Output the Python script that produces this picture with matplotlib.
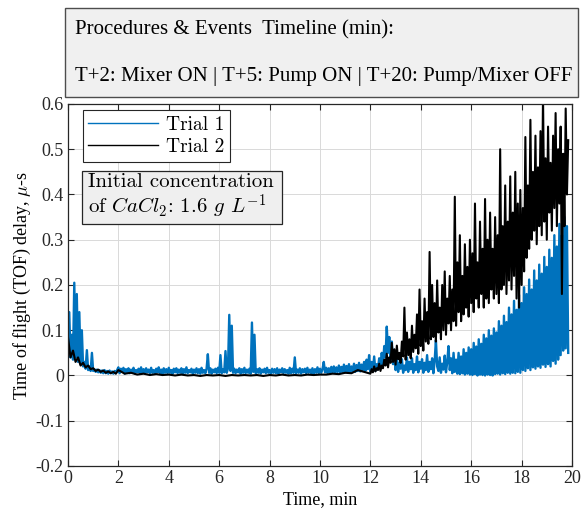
import numpy as np
import matplotlib
matplotlib.use("Agg")
import matplotlib.pyplot as plt
from matplotlib.patches import Rectangle

plt.rcParams["font.family"] = ["Liberation Serif", "DejaVu Serif"]
plt.rcParams["mathtext.fontset"] = "cm"

# --- Trial 1 (blue), three segments ---
t1_starts = [0.0, 2.0, 12.0]
t1_steps = [0.05, 0.05, 0.05]
trial1_a = [0.05, 0.14, 0.04, 0.09, 0.035, 0.205, 0.04, 0.18, 0.03, 0.14,
            0.025, 0.10, 0.02, 0.03, 0.015, 0.056, 0.012, 0.02, 0.01, 0.05,
            0.01, 0.014, 0.008, 0.013, 0.007, 0.012, 0.006, 0.011, 0.005, 0.012,
            0.005, 0.01, 0.004, 0.011, 0.005, 0.009, 0.004, 0.01, 0.005, 0.012]
trial1_b = [0.018, 0.005, 0.015, 0.008, 0.017, 0.004, 0.014, 0.007, 0.016, 0.005,
            0.013, 0.006, 0.017, 0.004, 0.012, 0.007, 0.015, 0.005, 0.018, 0.006,
            0.014, 0.004, 0.016, 0.007, 0.013, 0.005, 0.017, 0.006, 0.012, 0.004,
            0.015, 0.007, 0.018, 0.005, 0.013, 0.004, 0.016, 0.006, 0.014, 0.005,
            0.017, 0.006, 0.012, 0.004, 0.015, 0.007, 0.016, 0.005, 0.013, 0.006,
            0.016, 0.004, 0.014, 0.006, 0.018, 0.005, 0.012, 0.007, 0.015, 0.004,
            0.013, 0.006, 0.016, 0.005, 0.014, 0.004, 0.017, 0.006, 0.012, 0.005,
            0.015, 0.047, 0.006, 0.016, 0.004, 0.013, 0.007, 0.015, 0.005, 0.017,
            0.006, 0.045, 0.005, 0.014, 0.007, 0.054, 0.006, 0.016, 0.134, 0.01,
            0.11, 0.006, 0.015, 0.005, 0.013, 0.007, 0.016, 0.004, 0.014, 0.006,
            0.017, 0.005, 0.013, 0.006, 0.015, 0.004, 0.117, 0.008, 0.09, 0.005,
            0.014, 0.006, 0.016, 0.004, 0.013, 0.007, 0.015, 0.005, 0.017, 0.006,
            0.012, 0.004, 0.015, 0.006, 0.014, 0.005, 0.016, 0.004, 0.013, 0.007,
            0.016, 0.005, 0.014, 0.006, 0.012, 0.004, 0.017, 0.005, 0.015, 0.006,
            0.04, 0.005, 0.013, 0.006, 0.016, 0.004, 0.014, 0.007, 0.015, 0.005,
            0.017, 0.006, 0.013, 0.005, 0.016, 0.004, 0.014, 0.006, 0.018, 0.005,
            0.015, 0.006, 0.014, 0.03, 0.007, 0.017, 0.005, 0.016, 0.006, 0.019,
            0.007, 0.02, 0.006, 0.018, 0.008, 0.022, 0.006, 0.019, 0.008, 0.024,
            0.007, 0.021, 0.009, 0.025, 0.008, 0.02, 0.01, 0.026, 0.008, 0.023,
            0.01, 0.028, 0.009, 0.024, 0.012, 0.03, 0.01, 0.035, 0.014, 0.045]
trial1_c = [0.008, 0.03, 0.012, 0.042, 0.01, 0.025, 0.014, 0.038, 0.02, 0.05,
            0.025, 0.065, 0.04, 0.108, 0.05, 0.085, 0.035, 0.075, 0.025, 0.05,
            0.012, 0.042, 0.008, 0.028, 0.015, 0.036, 0.006, 0.022, 0.012, 0.04,
            0.008, 0.03, 0.014, 0.038, 0.006, 0.025, 0.012, 0.042, 0.007, 0.03,
            0.015, 0.036, 0.006, 0.028, 0.012, 0.045, 0.008, 0.03, 0.014, 0.038,
            0.005, 0.032, 0.078, 0.02, 0.01, 0.04, 0.006, 0.026, 0.013, 0.044,
            0.007, 0.03, 0.065, 0.012, 0.038, 0.005, 0.05, 0.008, 0.035, 0.004,
            0.05, 0.003, 0.042, 0.005, 0.058, 0.002, 0.05, 0.004, 0.062, 0.002,
            0.058, 0.001, 0.072, 0.003, 0.064, 0.0, 0.08, 0.002, 0.07, 0.001,
            0.09, 0.0, 0.082, 0.002, 0.1, 0.001, 0.088, 0.0, 0.104, 0.003,
            0.095, 0.004, 0.12, 0.002, 0.11, 0.005, 0.132, 0.003, 0.118, 0.006,
            0.15, 0.004, 0.135, 0.006, 0.165, 0.005, 0.145, 0.008, 0.178, 0.006,
            0.16, 0.012, 0.195, 0.01, 0.18, 0.016, 0.212, 0.012, 0.19, 0.018,
            0.232, 0.015, 0.21, 0.02, 0.245, 0.017, 0.225, 0.024, 0.262, 0.019,
            0.24, 0.025, 0.278, 0.02, 0.26, 0.032, 0.31, 0.026, 0.285, 0.035,
            0.335, 0.045, 0.31, 0.055, 0.35, 0.06, 0.33, 0.05]

# --- Trial 2 (black) ---
t2_starts = [0.0, 2.0, 12.0]
t2_steps = [0.1, 0.25, 0.05]
trial2_a = [0.085, 0.04, 0.055, 0.03, 0.04, 0.022, 0.028, 0.018, 0.022, 0.014,
            0.016, 0.01, 0.013, 0.008, 0.011, 0.006, 0.009, 0.005, 0.008, 0.004]
trial2_b = [0.012, 0.004, 0.006, 0.002, 0.004, 0.001, 0.003, 0.001, 0.002, 0.0,
            0.002, 0.0, 0.001, -0.001, 0.001, 0.0, 0.001, -0.001, 0.001, 0.0,
            0.001, 0.0, 0.001, -0.001, 0.001, 0.0, 0.002, 0.0, 0.001, 0.0,
            0.002, 0.001, 0.002, 0.002, 0.004, 0.003, 0.006, 0.005, 0.012, 0.008]
trial2_c = [0.004, 0.014, 0.007, 0.02, 0.009, 0.016, 0.012, 0.026, 0.01, 0.022,
            0.016, 0.035, 0.022, 0.048, 0.018, 0.04, 0.028, 0.072, 0.03, 0.058,
            0.024, 0.066, 0.036, 0.05, 0.028, 0.075, 0.042, 0.15, 0.035, 0.095,
            0.045, 0.08, 0.038, 0.11, 0.052, 0.09, 0.06, 0.135, 0.048, 0.19,
            0.065, 0.12, 0.055, 0.17, 0.075, 0.14, 0.07, 0.273, 0.08, 0.2,
            0.085, 0.16, 0.075, 0.21, 0.095, 0.15, 0.08, 0.2, 0.1, 0.23,
            0.09, 0.17, 0.115, 0.22, 0.1, 0.19, 0.12, 0.395, 0.11, 0.25,
            0.14, 0.31, 0.12, 0.22, 0.135, 0.29, 0.15, 0.24, 0.13, 0.3,
            0.16, 0.27, 0.14, 0.38, 0.17, 0.25, 0.15, 0.34, 0.18, 0.28,
            0.15, 0.39, 0.17, 0.3, 0.16, 0.36, 0.19, 0.28, 0.17, 0.35,
            0.18, 0.31, 0.16, 0.5, 0.19, 0.33, 0.2, 0.42, 0.18, 0.34,
            0.21, 0.44, 0.19, 0.36, 0.22, 0.45, 0.17, 0.38, 0.15, 0.41,
            0.2, 0.37, 0.23, 0.527, 0.26, 0.42, 0.28, 0.565, 0.3, 0.45,
            0.32, 0.53, 0.29, 0.46, 0.33, 0.54, 0.31, 0.62, 0.34, 0.48,
            0.3, 0.55, 0.36, 0.47, 0.32, 0.53, 0.37, 0.58, 0.33, 0.5,
            0.38, 0.55, 0.18, 0.49, 0.33, 0.59, 0.4, 0.52]

x_ticks = [0, 2, 4, 6, 8, 10, 12, 14, 16, 18, 20]
y_ticks = [-0.2, -0.1, 0, 0.1, 0.2, 0.3, 0.4, 0.5, 0.6]
y_tick_labels = ["-0.2", "-0.1", "0", "0.1", "0.2", "0.3", "0.4", "0.5", "0.6"]


def build(starts, steps, segs):
    ts, vs = [], []
    for s0, dt, seg in zip(starts, steps, segs):
        ts.append(s0 + dt * np.arange(len(seg)))
        vs.append(np.array(seg))
    return np.concatenate(ts), np.concatenate(vs)


t1, v1 = build(t1_starts, t1_steps, [trial1_a, trial1_b, trial1_c])
t2, v2 = build(t2_starts, t2_steps, [trial2_a, trial2_b, trial2_c])

fig = plt.figure(figsize=(5.82, 5.14), dpi=100)
ax = fig.add_axes([0.1168, 0.0934, 0.866, 0.7043])

ax.plot(t1, v1, color="#0072bd", lw=1.7, label="Trial 1")
ax.plot(t2, v2, color="black", lw=1.5, label="Trial 2")

ax.set_xlim(0, 20)
ax.set_ylim(-0.2, 0.6)
ax.set_xticks(x_ticks)
ax.set_yticks(y_ticks)
ax.set_yticklabels(y_tick_labels)
ax.tick_params(direction="in", top=True, right=True, length=4, width=0.8,
               labelsize=13, colors="#262626", pad=3)
ax.grid(True, color="#d9d9d9", lw=0.7)
ax.set_axisbelow(True)
for sp in ax.spines.values():
    sp.set_color("#262626")
    sp.set_linewidth(0.9)

ax.set_xlabel("Time, min", fontsize=13, labelpad=3)
ax.set_ylabel(r"Time of flight (TOF) delay, $\mu$-s", fontsize=13, labelpad=2)

leg = ax.legend(loc="upper left", bbox_to_anchor=(0.029, 0.983), borderaxespad=0,
                prop={"family": "cmr10", "size": 14}, handlelength=3.6,
                fancybox=False, framealpha=1, edgecolor="#262626", borderpad=0.3,
                labelspacing=0.2, handletextpad=0.4)
leg.get_frame().set_linewidth(0.8)
for h in leg.get_lines():
    h.set_linewidth(1.0)

# concentration box
ax.add_patch(Rectangle((0.027, 0.668), 0.397, 0.148, transform=ax.transAxes,
                       facecolor="#efefef", edgecolor="#262626", lw=0.9, zorder=5))
ax.text(0.04, 0.742, "Initial concentration\nof $CaCl_2$: 1.6 $g$ $L^{-1}$",
        transform=ax.transAxes, family="cmr10", fontsize=15, va="center",
        ha="left", linespacing=1.1, zorder=6)

# timeline box at the top
fig.patches.append(Rectangle((0.1117, 0.8113), 0.8814, 0.1731, transform=fig.transFigure,
                             facecolor="#f0f0f0", edgecolor="#4d4d4d", lw=1.0))
fig.text(0.129, 0.941, "Procedures & Events  Timeline (min):", fontsize=15,
         va="center", ha="left")
fig.text(0.129, 0.852, "T+2: Mixer ON | T+5: Pump ON | T+20: Pump/Mixer OFF",
         fontsize=15, va="center", ha="left")

fig.savefig("out.png", dpi=100)
